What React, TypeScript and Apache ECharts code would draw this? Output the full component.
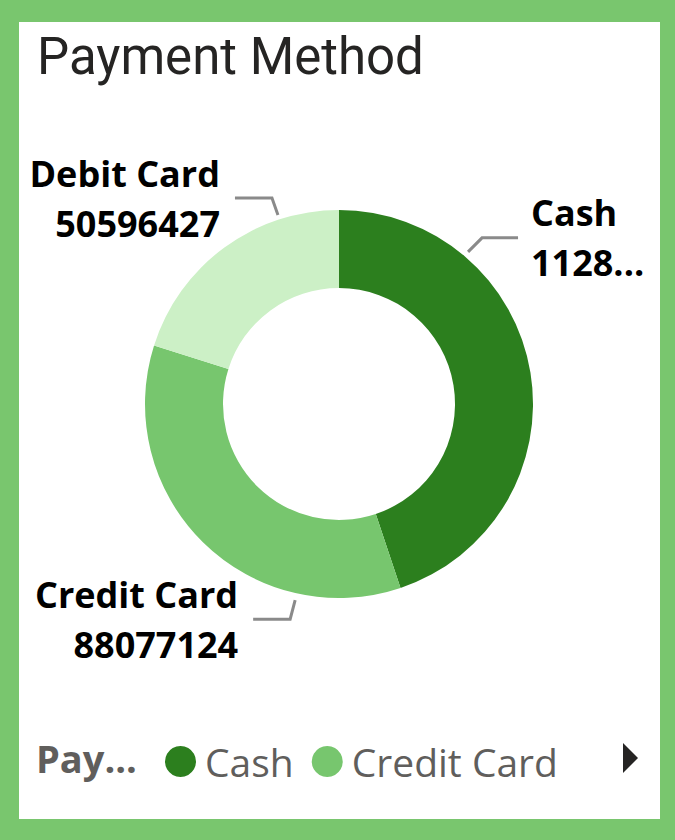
import React, { useEffect, useRef } from "react";
import * as echarts from "echarts";

// ---- data ----
const chartTitle = "Payment Method";
const categories = ["Cash", "Credit Card", "Debit Card"];
const amounts = [112836951, 88077124, 50596427];
const legendItems = ["Cash", "Credit Card"];
const legendTitle = "Pay...";

// ---- styles / layout ----
const COLORS = ["#2C7F1E", "#77C66E", "#CCF0C6"];
const BORDER_GREEN = "#79C66E";
const CENTER = [339, 404];
const R_IN = 116;
const R_OUT = 194;
const LABEL_FONT = "'Open Sans', 'Noto Sans', sans-serif";

// leader-line geometry per category (angle clockwise from 12 o'clock)
const LEADERS = [
  { angle: 40.3, r: 199.5, elbow: [14, -14], run: 36, gap: 13, side: 1, width: 121 },
  { angle: 192.6, r: 201, elbow: [-5, 19], run: -37, gap: 15, side: -1, width: 0 },
  { angle: -17.9, r: 198.6, elbow: [-6, -17], run: -37, gap: 15, side: -1, width: 0 },
];

export default function App() {
  const ref = useRef<HTMLDivElement>(null);

  useEffect(() => {
    if (!ref.current) return;
    const chart = echarts.init(ref.current, null, { renderer: "svg" });

    const data = categories.map((name, i) => {
      const L = LEADERS[i];
      const item: any = { name, value: amounts[i], itemStyle: { color: COLORS[i] } };
      if (L.width) {
        item.label = { width: L.width, overflow: "truncate", ellipsis: "..." };
      }
      return item;
    });

    const option: any = {
      animation: false,
      backgroundColor: BORDER_GREEN,
      graphic: [
        {
          type: "rect",
          z: -10,
          shape: { x: 19, y: 22, width: 641, height: 797 },
          style: { fill: "#FFFFFF" },
          silent: true,
        },
        {
          type: "text",
          z: 10,
          x: 37,
          y: 56,
          style: {
            text: chartTitle,
            fontFamily: "Roboto, sans-serif",
            fontSize: 51,
            fontWeight: "normal",
            fill: "#252423",
            verticalAlign: "middle",
            align: "left",
          },
        },
        {
          type: "text",
          z: 10,
          x: 36,
          y: 758,
          style: {
            text: legendTitle,
            fontFamily: LABEL_FONT,
            fontSize: 38,
            fontWeight: "bold",
            fill: "#605E5C",
            verticalAlign: "middle",
            align: "left",
          },
        },
        {
          type: "polygon",
          z: 10,
          shape: { points: [[623, 743], [638, 758], [623, 773]] },
          style: { fill: "#252423" },
        },
      ],
      legend: {
        show: true,
        data: legendItems,
        orient: "horizontal",
        left: 160,
        top: 737,
        icon: "circle",
        itemWidth: 31,
        itemHeight: 31,
        itemGap: 18,
        textStyle: {
          fontFamily: LABEL_FONT,
          fontSize: 39,
          color: "#605E5C",
          padding: [0, 0, 0, 4],
        },
        selectedMode: false,
      },
      series: [
        {
          type: "pie",
          center: CENTER,
          radius: [R_IN, R_OUT],
          startAngle: 90,
          clockwise: true,
          avoidLabelOverlap: false,
          silent: true,
          data,
          label: {
            show: true,
            position: "outside",
            formatter: "{b}\n{c}",
            fontFamily: LABEL_FONT,
            fontWeight: "bold",
            fontSize: 36,
            lineHeight: 50,
            color: "#000000",
          },
          labelLine: {
            show: true,
            length: 15,
            length2: 30,
            smooth: false,
            lineStyle: { color: "#8A8A8A", width: 3 },
          },
          labelLayout: (params: any) => {
            const L = LEADERS[params.dataIndex];
            const a = (L.angle * Math.PI) / 180;
            const sx = CENTER[0] + L.r * Math.sin(a);
            const sy = CENTER[1] - L.r * Math.cos(a);
            const bx = sx + L.elbow[0];
            const by = sy + L.elbow[1];
            const ex = bx + L.run;
            return {
              x: ex + L.side * L.gap,
              y: by,
              align: L.side > 0 ? "left" : "right",
              verticalAlign: "middle",
              labelLinePoints: [
                [sx, sy],
                [bx, by],
                [ex, by],
              ],
            };
          },
        },
      ],
    };

    chart.setOption(option);
    return () => chart.dispose();
  }, []);

  return (
    <div
      ref={ref}
      style={{ position: "absolute", left: 0, top: 0, width: 675, height: 840 }}
    />
  );
}
